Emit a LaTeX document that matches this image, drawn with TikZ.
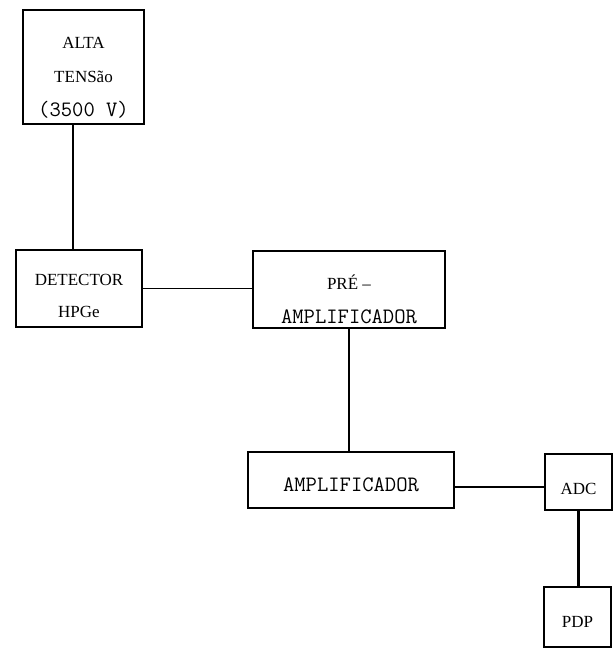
\documentclass[tikz,border=0pt]{standalone}
\usepackage{fontspec}
\setmainfont{Liberation Serif}
\usepackage{tikz}
\usetikzlibrary{positioning}

\begin{document}
\begin{tikzpicture}[
  x=1pt, y=-1pt,
  bloco/.style={draw, line width=2.6pt, inner sep=0pt},
  texto/.style={align=center, inner sep=0pt, font=\fontsize{17}{34}\selectfont},
  fio/.style={line width=1.4pt},
  fiogrosso/.style={line width=2.2pt}
]
\newcommand{\maq}{\fontsize{22}{34}\ttfamily}
\useasboundingbox (0,0) rectangle (614,651);
% caixas
\node[bloco, minimum width=121pt, minimum height=114pt] (alta) at (83.5,67) {};
\node[bloco, minimum width=126pt, minimum height=77pt] (det) at (79,288.5) {};
\node[bloco, minimum width=192pt, minimum height=77pt] (pre) at (349,289.5) {};
\node[bloco, minimum width=206pt, minimum height=56pt] (amp) at (351,480) {};
\node[bloco, minimum width=67pt, minimum height=56pt] (adc) at (578.5,482) {};
\node[bloco, minimum width=67pt, minimum height=60pt] (pdp) at (577.5,617) {};
% textos
\node[texto] (alta-t) at ([yshift=-11pt]alta.center) {ALTA\\TENSão\\{\maq(3500 V)}};
\node[texto, font=\fontsize{17}{32}\selectfont] (det-t) at ([yshift=-7.5pt]det.center) {DETECTOR\\HPGe};
\node[texto] (pre-t) at ([yshift=-10pt]pre.center) {PRÉ --\\{\maq AMPLIFICADOR}};
\node[texto, font=\maq] (amp-t) at ([yshift=-5pt]amp.center) {AMPLIFICADOR};
\node[texto] (adc-t) at ([yshift=-7pt]adc.center) {ADC};
\node[texto] (pdp-t) at ([yshift=-5pt]pdp.center) {PDP};

\coordinate (c1) at (73,0);
\coordinate (c2) at (0,487);
\draw[fiogrosso] (alta.south -| c1) -- (det.north -| c1);
\draw[fio] (det.east) -- (det.east -| pre.west);
\draw[fiogrosso] (pre.south) -- (pre.south |- amp.north);
\draw[fio] (amp.east |- c2) -- (adc.west |- c2);
\draw[fiogrosso] (adc.south) -- (adc.south |- pdp.north);
\end{tikzpicture}
\end{document}
